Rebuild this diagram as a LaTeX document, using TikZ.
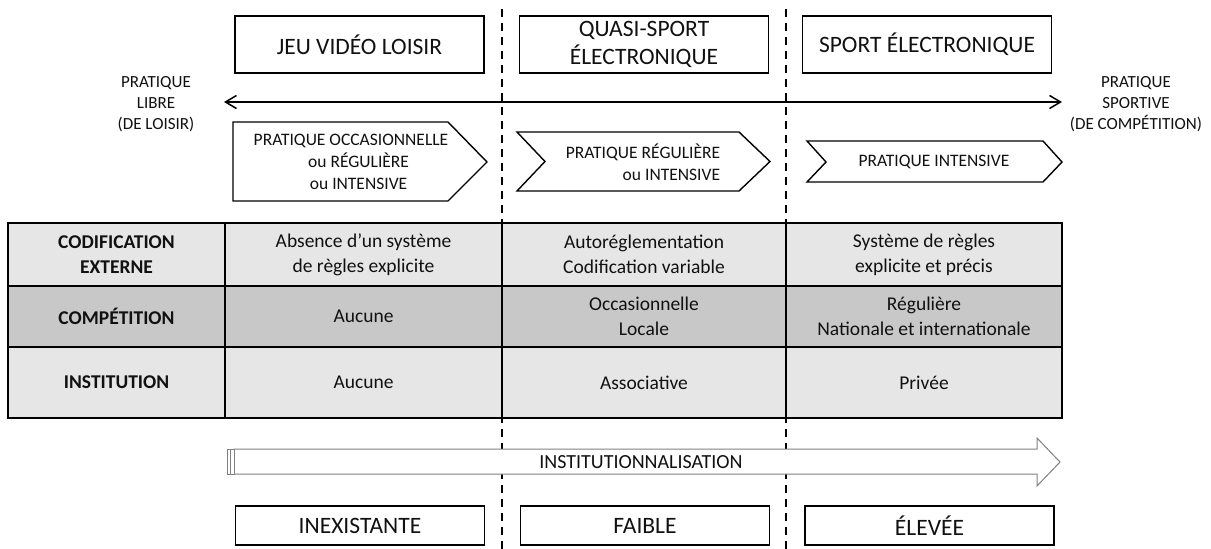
\documentclass[tikz,border=0pt]{standalone}
\usepackage{fontspec}
\setmainfont{Carlito}
\usetikzlibrary{arrows.meta}
\definecolor{rowlight}{HTML}{E6E6E6}
\definecolor{rowdark}{HTML}{C8C8C8}
\definecolor{arrowgray}{HTML}{808080}
\definecolor{txt}{HTML}{111111}
\tikzset{
  catbox/.style={draw, line width=1.6pt, minimum width=249pt, minimum height=57pt, align=center, inner sep=0pt, text=txt, font=\fontsize{23.5}{28}\selectfont},
  lvlbox/.style={draw, line width=1.6pt, minimum width=249pt, minimum height=39pt, align=center, inner sep=0pt, text=txt, font=\fontsize{23.5}{28}\selectfont},
  sidelabel/.style={align=center, inner sep=0pt, text=txt, font=\fontsize{17}{21}\selectfont},
  chevtext/.style={inner sep=0pt, text=txt, font=\fontsize{17.5}{21.7}\selectfont},
  chevshape/.style={draw, line width=1.4pt, fill=white},
  rowhead/.style={align=center, inner sep=0pt, text=txt, font=\bfseries\fontsize{19.5}{25}\selectfont},
  cell/.style={align=center, inner sep=0pt, text=txt, font=\fontsize{19.5}{25}\selectfont},
  dashline/.style={line width=1.8pt, dash pattern=on 8pt off 6pt},
  gridline/.style={line width=1.6pt},
  axis/.style={line width=1.5pt, {Straight Barb[length=11pt,width=13pt,line width=1.5pt]}-{Straight Barb[length=11pt,width=13pt,line width=1.5pt]}},
  blockarrow/.style={draw=arrowgray, line width=1pt, fill=white},
}
\begin{document}
\begin{tikzpicture}[x=1pt,y=-1pt]
\useasboundingbox (0,0) rectangle (1211,549);
\fill[white] (0,0) rectangle (1211,549);

% dashed separators
\draw[dashline] (502,9) -- (502,549);
\draw[dashline] (786,9) -- (786,549);

% category boxes
\node[catbox, fill=white] (cat1) at (359.5,44.5) {JEU VIDÉO LOISIR};
\node[catbox, fill=white] (cat2) at (644,44.5) {QUASI-SPORT\\ÉLECTRONIQUE};
\node[catbox, fill=white] (cat3) at (927,44.5) {SPORT ÉLECTRONIQUE};

% double arrow axis
\coordinate (axl) at (224,102);
\coordinate (axr) at (1062,102);
\draw[axis] (axl) -- (axr);
\node[sidelabel] (libre) at (156,104) {PRATIQUE\\LIBRE\\(DE LOISIR)};
\node[sidelabel] (sportive) at (1136,104) {PRATIQUE\\SPORTIVE\\(DE COMPÉTITION)};

% chevrons
\draw[chevshape] (233,122) -- (448,122) -- (487,162) -- (448,201) -- (233,201) -- cycle;
\draw[chevshape] (517,132) -- (739,132) -- (770,161.5) -- (739,191) -- (517,191) -- (545,161.5) -- cycle;
\draw[chevshape] (807,141) -- (1043,141) -- (1062,162) -- (1043,182) -- (807,182) -- (826,162) -- cycle;
\node[chevtext, align=center] (ch1) at (351,162) {PRATIQUE OCCASIONNELLE\\\hphantom{xx}ou RÉGULIÈRE\\\hphantom{xx}ou INTENSIVE};
\node[chevtext, align=right] (ch2) at (643,162) {PRATIQUE RÉGULIÈRE\\ou INTENSIVE};
\node[chevtext] (ch3) at (934,162) {PRATIQUE INTENSIVE};

% table
\fill[rowlight] (8,223) rectangle (1062,286);
\fill[rowdark] (8,286) rectangle (1062,347);
\fill[rowlight] (8,347) rectangle (1062,418);
\draw[gridline] (8,223) rectangle (1062,418);
\draw[gridline] (8,286) -- (1062,286);
\draw[gridline] (8,347) -- (1062,347);
\draw[gridline] (225,223) -- (225,418);
\draw[gridline] (502,223) -- (502,418);
\draw[gridline] (786,223) -- (786,418);

\node[rowhead] (h1) at (116.5,254.5) {CODIFICATION\\EXTERNE};
\node[rowhead] (h2) at (116.5,316.5) {COMPÉTITION};
\node[rowhead] (h3) at (116.5,382.5) {INSTITUTION};

\node[cell] (a1) at (363.5,254.5) {Absence d’un système\\de règles explicite};
\node[cell] (a2) at (363.5,316.5) {Aucune};
\node[cell] (a3) at (363.5,382.5) {Aucune};

\node[cell] (b1) at (644,254.5) {Autoréglementation\\Codification variable};
\node[cell] (b2) at (644,316.5) {Occasionnelle\\Locale};
\node[cell] (b3) at (644,382.5) {Associative};

\node[cell] (c1) at (924,254.5) {Système de règles\\explicite et précis};
\node[cell] (c2) at (924,316.5) {Régulière\\Nationale et internationale};
\node[cell] (c3) at (924,382.5) {Privée};

% institutionnalisation block arrow
\draw[blockarrow] (234,449) -- (1037,449) -- (1037,438) -- (1060,462) -- (1037,486) -- (1037,474) -- (234,474) -- cycle;
\draw[blockarrow] (227,449) rectangle (230,474);
\draw[blockarrow] (230,449) rectangle (234,474);
\node[inner sep=0pt, text=txt, font=\fontsize{20}{24}\selectfont] (inst) at (641,462) {INSTITUTIONNALISATION};

% level boxes
\node[lvlbox, fill=white] (lv1) at (360,525.5) {INEXISTANTE};
\node[lvlbox, fill=white] (lv2) at (645,525.5) {FAIBLE};
\node[lvlbox, fill=white] (lv3) at (929.5,525.5) {ÉLEVÉE};
\end{tikzpicture}
\end{document}
